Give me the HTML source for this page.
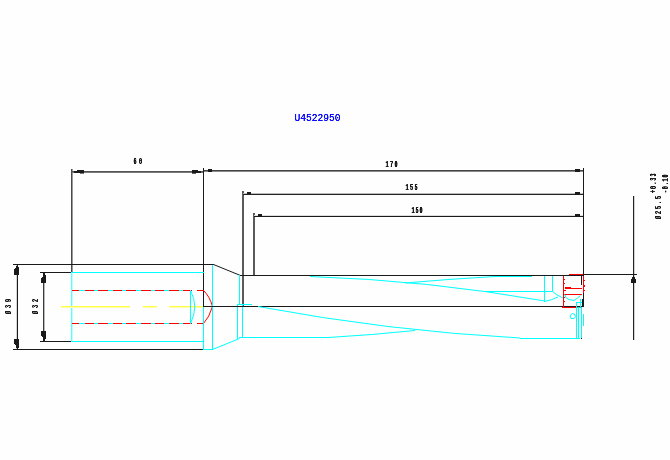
<!DOCTYPE html>
<html><head><meta charset="utf-8"><style>
html,body{margin:0;padding:0;background:#fdfefd;}
svg{display:block;font-family:"Liberation Sans",sans-serif;}
rect{shape-rendering:crispEdges;}
</style></head><body>
<svg width="670" height="460" viewBox="0 0 670 460">
<defs><filter id="gray" x="-20%" y="-50%" width="140%" height="200%"><feComponentTransfer><feFuncA type="linear" slope="1.15"/></feComponentTransfer></filter><filter id="soft" x="-10%" y="-30%" width="120%" height="160%"><feGaussianBlur stdDeviation="0.45 0.25"/><feComponentTransfer><feFuncA type="linear" slope="1.7"/></feComponentTransfer></filter></defs>
<rect x="0" y="0" width="670" height="460" fill="#fdfefd"/>
<g filter="url(#soft)"><text transform="translate(294.5,121)" font-family="&quot;Liberation Mono&quot;, monospace" font-weight="normal" font-size="10" fill="#1010ff" textLength="46.00" lengthAdjust="spacingAndGlyphs">U4522950</text></g>
<g filter="url(#soft)"><text transform="translate(133.5,164) scale(0.6,1)" font-family="&quot;Liberation Mono&quot;, monospace" font-weight="bold" font-size="8.6" fill="#1a1a1a" textLength="14.17" lengthAdjust="spacing">60</text></g>
<g filter="url(#soft)"><text transform="translate(385.5,167) scale(0.6,1)" font-family="&quot;Liberation Mono&quot;, monospace" font-weight="bold" font-size="8.6" fill="#1a1a1a" textLength="20.00" lengthAdjust="spacing">170</text></g>
<g filter="url(#soft)"><text transform="translate(405.5,190) scale(0.6,1)" font-family="&quot;Liberation Mono&quot;, monospace" font-weight="bold" font-size="8.6" fill="#1a1a1a" textLength="20.00" lengthAdjust="spacing">155</text></g>
<g filter="url(#soft)"><text transform="translate(411.5,213) scale(0.6,1)" font-family="&quot;Liberation Mono&quot;, monospace" font-weight="bold" font-size="8.6" fill="#1a1a1a" textLength="18.33" lengthAdjust="spacing">150</text></g>
<g filter="url(#soft)"><text transform="translate(11,314) rotate(-90) scale(0.6,1)" font-family="&quot;Liberation Mono&quot;, monospace" font-weight="bold" font-size="8.6" fill="#1a1a1a" textLength="25.00" lengthAdjust="spacing">Ø39</text></g>
<g filter="url(#soft)"><text transform="translate(38,314) rotate(-90) scale(0.6,1)" font-family="&quot;Liberation Mono&quot;, monospace" font-weight="bold" font-size="8.6" fill="#1a1a1a" textLength="25.00" lengthAdjust="spacing">Ø32</text></g>
<g filter="url(#soft)"><text transform="translate(661,219) rotate(-90) scale(0.6,1)" font-family="&quot;Liberation Mono&quot;, monospace" font-weight="bold" font-size="8.6" fill="#1a1a1a" textLength="38.33" lengthAdjust="spacing">Ø25.5</text></g>
<g filter="url(#soft)"><text transform="translate(656,193) rotate(-90) scale(0.6,1)" font-family="&quot;Liberation Mono&quot;, monospace" font-weight="bold" font-size="8.6" fill="#1a1a1a" textLength="32.50" lengthAdjust="spacing">+0.33</text></g>
<g filter="url(#soft)"><text transform="translate(668,193) rotate(-90) scale(0.6,1)" font-family="&quot;Liberation Mono&quot;, monospace" font-weight="bold" font-size="8.6" fill="#1a1a1a" textLength="30.83" lengthAdjust="spacing">-0.10</text></g>
<rect x="71" y="169" width="1" height="103" fill="#4a4a4a"/>
<rect x="72" y="169" width="1" height="103" fill="#9a9a9a"/>
<rect x="72" y="171" width="132" height="1" fill="#555"/>
<rect x="72" y="172" width="132" height="1" fill="#777"/>
<rect x="203" y="168" width="1" height="138" fill="#1a1a1a"/>
<rect x="204" y="170" width="380" height="1" fill="#444"/>
<rect x="204" y="171" width="380" height="1" fill="#888"/>
<rect x="242" y="191" width="2" height="115" fill="#5a5a5a"/>
<rect x="243" y="193" width="341" height="1" fill="#bbb"/>
<rect x="243" y="194" width="341" height="1" fill="#222"/>
<rect x="253" y="213" width="2" height="62" fill="#5a5a5a"/>
<rect x="254" y="215" width="330" height="1" fill="#ddd"/>
<rect x="254" y="216" width="330" height="1" fill="#1a1a1a"/>
<rect x="583" y="168" width="1" height="139" fill="#1a1a1a"/>
<rect x="74" y="171" width="3" height="2" fill="#1a1a1a"/>
<rect x="77" y="170" width="7" height="3" fill="#1a1a1a"/>
<rect x="80" y="173" width="4" height="1" fill="#1a1a1a" fill-opacity="0.6"/>
<rect x="198" y="171" width="3" height="2" fill="#1a1a1a"/>
<rect x="192" y="170" width="6" height="3" fill="#1a1a1a"/>
<rect x="192" y="173" width="4" height="1" fill="#1a1a1a" fill-opacity="0.7"/>
<rect x="208" y="169" width="4" height="3" fill="#1a1a1a"/>
<rect x="575" y="169" width="5" height="3" fill="#1a1a1a"/>
<rect x="247" y="192" width="4" height="2" fill="#1a1a1a"/>
<rect x="575" y="192" width="5" height="3" fill="#1a1a1a"/>
<rect x="258" y="214" width="4" height="2" fill="#1a1a1a"/>
<rect x="575" y="214" width="5" height="3" fill="#1a1a1a"/>
<rect x="13" y="264" width="201" height="1" fill="#1a1a1a"/>
<rect x="13" y="349" width="191" height="1" fill="#1a1a1a"/>
<rect x="40" y="272" width="32" height="1" fill="#1a1a1a"/>
<rect x="40" y="341" width="32" height="1" fill="#1a1a1a"/>
<rect x="17" y="265" width="1" height="84" fill="#1a1a1a"/>
<rect x="16" y="265" width="1" height="84" fill="#1a1a1a" fill-opacity="0.18"/>
<rect x="43" y="273" width="1" height="68" fill="#3a3a3a"/>
<rect x="44" y="273" width="1" height="68" fill="#3a3a3a" fill-opacity="0.35"/>
<rect x="17" y="265" width="1" height="1" fill="#1a1a1a"/>
<rect x="16" y="266" width="2" height="1" fill="#1a1a1a"/>
<rect x="16" y="267" width="3" height="1" fill="#1a1a1a"/>
<rect x="15" y="268" width="4" height="1" fill="#1a1a1a"/>
<rect x="14" y="269" width="5" height="6" fill="#1a1a1a"/>
<rect x="17" y="348" width="1" height="1" fill="#1a1a1a"/>
<rect x="16" y="347" width="3" height="1" fill="#1a1a1a"/>
<rect x="16" y="345" width="3" height="2" fill="#1a1a1a"/>
<rect x="15" y="344" width="4" height="1" fill="#1a1a1a"/>
<rect x="14" y="339" width="5" height="5" fill="#1a1a1a"/>
<rect x="43" y="273" width="2" height="2" fill="#1a1a1a"/>
<rect x="43" y="275" width="3" height="2" fill="#1a1a1a"/>
<rect x="42" y="277" width="4" height="1" fill="#1a1a1a"/>
<rect x="41" y="278" width="5" height="5" fill="#1a1a1a"/>
<rect x="43" y="339" width="2" height="2" fill="#1a1a1a"/>
<rect x="43" y="337" width="3" height="2" fill="#1a1a1a"/>
<rect x="42" y="336" width="4" height="1" fill="#1a1a1a"/>
<rect x="41" y="331" width="5" height="5" fill="#1a1a1a"/>
<rect x="71" y="272" width="133" height="1" fill="#00ffff"/>
<rect x="71" y="341" width="133" height="1" fill="#00ffff"/>
<rect x="71" y="272" width="1" height="70" fill="#55ffff"/>
<rect x="72" y="273" width="1" height="68" fill="#bbffff"/>
<rect x="72" y="290" width="119" height="1" fill="#00ffff"/>
<rect x="72" y="290" width="7" height="1" fill="#ff0000"/>
<rect x="85" y="290" width="9" height="1" fill="#ff0000"/>
<rect x="98" y="290" width="10" height="1" fill="#ff0000"/>
<rect x="113" y="290" width="9" height="1" fill="#ff0000"/>
<rect x="126" y="290" width="10" height="1" fill="#ff0000"/>
<rect x="141" y="290" width="10" height="1" fill="#ff0000"/>
<rect x="155" y="290" width="9" height="1" fill="#ff0000"/>
<rect x="169" y="290" width="10" height="1" fill="#ff0000"/>
<rect x="183" y="290" width="9" height="1" fill="#ff0000"/>
<rect x="197" y="290" width="7" height="1" fill="#ff0000"/>
<rect x="72" y="323" width="119" height="1" fill="#00ffff"/>
<rect x="72" y="323" width="7" height="1" fill="#ff0000"/>
<rect x="85" y="323" width="9" height="1" fill="#ff0000"/>
<rect x="98" y="323" width="10" height="1" fill="#ff0000"/>
<rect x="113" y="323" width="9" height="1" fill="#ff0000"/>
<rect x="126" y="323" width="10" height="1" fill="#ff0000"/>
<rect x="141" y="323" width="10" height="1" fill="#ff0000"/>
<rect x="155" y="323" width="9" height="1" fill="#ff0000"/>
<rect x="169" y="323" width="10" height="1" fill="#ff0000"/>
<rect x="183" y="323" width="9" height="1" fill="#ff0000"/>
<rect x="197" y="323" width="7" height="1" fill="#ff0000"/>
<rect x="61" y="306" width="69" height="1" fill="#ffff44"/>
<rect x="61" y="307" width="69" height="1" fill="#ffffaa"/>
<rect x="143" y="306" width="14" height="1" fill="#ffff44"/>
<rect x="143" y="307" width="14" height="1" fill="#ffffaa"/>
<rect x="169" y="306" width="34" height="1" fill="#ffff44"/>
<rect x="169" y="307" width="34" height="1" fill="#ffffaa"/>
<rect x="190" y="290" width="1" height="34" fill="#00ffff"/>
<path d="M190.5,290.5 Q199,306.5 190.5,323.5" stroke="#00ffff" stroke-width="1" fill="none" />
<path d="M203.5,290.5 Q209.5,296 212.5,306.5 Q209.5,317 203.5,323.5" stroke="#ff0000" stroke-width="1" fill="none" />
<rect x="212" y="265" width="1" height="85" fill="#00ffff"/>
<rect x="203" y="307" width="1" height="43" fill="#00ffff"/>
<rect x="204" y="349" width="9" height="1" fill="#00ffff"/>
<line x1="213.5" y1="264.5" x2="240.5" y2="275.5" stroke="#1a1a1a" stroke-width="1"/>
<line x1="212.5" y1="349.5" x2="239.5" y2="338.5" stroke="#00ffff" stroke-width="1"/>
<rect x="239" y="275" width="1" height="30" fill="#00ffff"/>
<rect x="237" y="304" width="1" height="35" fill="#00ffff"/>
<rect x="242" y="304" width="1" height="34" fill="#00ffff"/>
<rect x="237" y="304" width="15" height="1" fill="#00ffff"/>
<rect x="239" y="337" width="16" height="1" fill="#00ffff"/>
<rect x="240" y="275" width="344" height="1" fill="#1a1a1a"/>
<rect x="203" y="306" width="381" height="1" fill="#1a1a1a"/>
<path d="M310,276.5 Q427.5,280.3 545,301" stroke="#00ffff" stroke-width="1" fill="none" />
<path d="M405,283 Q450,279 495,276.5 L532,276.5" stroke="#00ffff" stroke-width="1" fill="none" />
<rect x="486" y="291" width="67" height="1" fill="#00ffff"/>
<path d="M258,306.5 Q389,331 520,338" stroke="#00ffff" stroke-width="1" fill="none" />
<path d="M328,337.5 Q372,335 415,330.5" stroke="#00ffff" stroke-width="1" fill="none" />
<rect x="254" y="337" width="75" height="1" fill="#00ffff"/>
<rect x="520" y="338" width="60" height="1" fill="#00ffff"/>
<rect x="544" y="276" width="1" height="26" fill="#00ffff"/>
<rect x="552" y="276" width="1" height="16" fill="#00ffff"/>
<path d="M552.5,291.5 Q556,295 563,298" stroke="#00ffff" stroke-width="1" fill="none" />
<path d="M544.5,301.5 Q552,300 558,297" stroke="#00ffff" stroke-width="1" fill="none" />
<rect x="563" y="276" width="1" height="31" fill="#ff0000"/>
<rect x="569" y="274" width="14" height="1" fill="#ff0000"/>
<rect x="565" y="288" width="17" height="1" fill="#ff0000"/>
<rect x="565" y="287" width="6" height="1" fill="#ff0000"/>
<rect x="564" y="294" width="18" height="1" fill="#ff0000"/>
<rect x="562" y="307" width="20" height="1" fill="#ff0000"/>
<rect x="583" y="276" width="1" height="17" fill="#ff0000"/>
<rect x="581" y="276" width="1" height="9" fill="#1a1a1a"/>
<rect x="582" y="299" width="2" height="8" fill="#1a1a1a"/>
<path d="M564.5,294.5 Q566,299 569,299.5 L574,300.5 Q578,298 580.5,295.5" stroke="#00ffff" stroke-width="1" fill="none" />
<rect x="576" y="302" width="6" height="1" fill="#00ffff"/>
<rect x="576" y="302" width="1" height="5" fill="#00ffff"/>
<rect x="580" y="299" width="1" height="8" fill="#00ffff"/>
<rect x="576" y="307" width="6" height="1" fill="#00ffff" fill-opacity="0.7"/>
<rect x="564" y="279" width="1" height="1" fill="#ff0000"/>
<rect x="564" y="283" width="1" height="1" fill="#ff0000"/>
<rect x="564" y="290" width="2" height="1" fill="#ff0000"/>
<rect x="564" y="297" width="1" height="1" fill="#ff0000"/>
<rect x="564" y="301" width="1" height="1" fill="#ff0000"/>
<rect x="584" y="280" width="1" height="1" fill="#ff0000"/>
<rect x="584" y="285" width="1" height="2" fill="#ff0000"/>
<rect x="584" y="290" width="1" height="1" fill="#ff0000"/>
<rect x="576" y="307" width="1" height="31" fill="#00ffff"/>
<rect x="578" y="307" width="1" height="31" fill="#00ffff"/>
<rect x="581" y="307" width="1" height="31" fill="#00ffff"/>
<rect x="583" y="314" width="1" height="12" fill="#00ffff"/>
<path d="M572,313.5 Q568.5,316 571,318.5 Q575,319.5 575.5,316.5 Q575,313 572,313.5" stroke="#00ffff" stroke-width="1" fill="none" />
<rect x="581" y="338" width="1" height="1" fill="#1a1a1a"/>
<rect x="633" y="196" width="1" height="144" fill="#222"/>
<rect x="634" y="196" width="1" height="144" fill="#222" fill-opacity="0.2"/>
<rect x="584" y="274" width="53" height="1" fill="#1a1a1a"/>
<rect x="633" y="276" width="1" height="1" fill="#1a1a1a"/>
<rect x="632" y="277" width="3" height="2" fill="#1a1a1a"/>
<rect x="631" y="279" width="5" height="4" fill="#1a1a1a"/>
</svg></body></html>
